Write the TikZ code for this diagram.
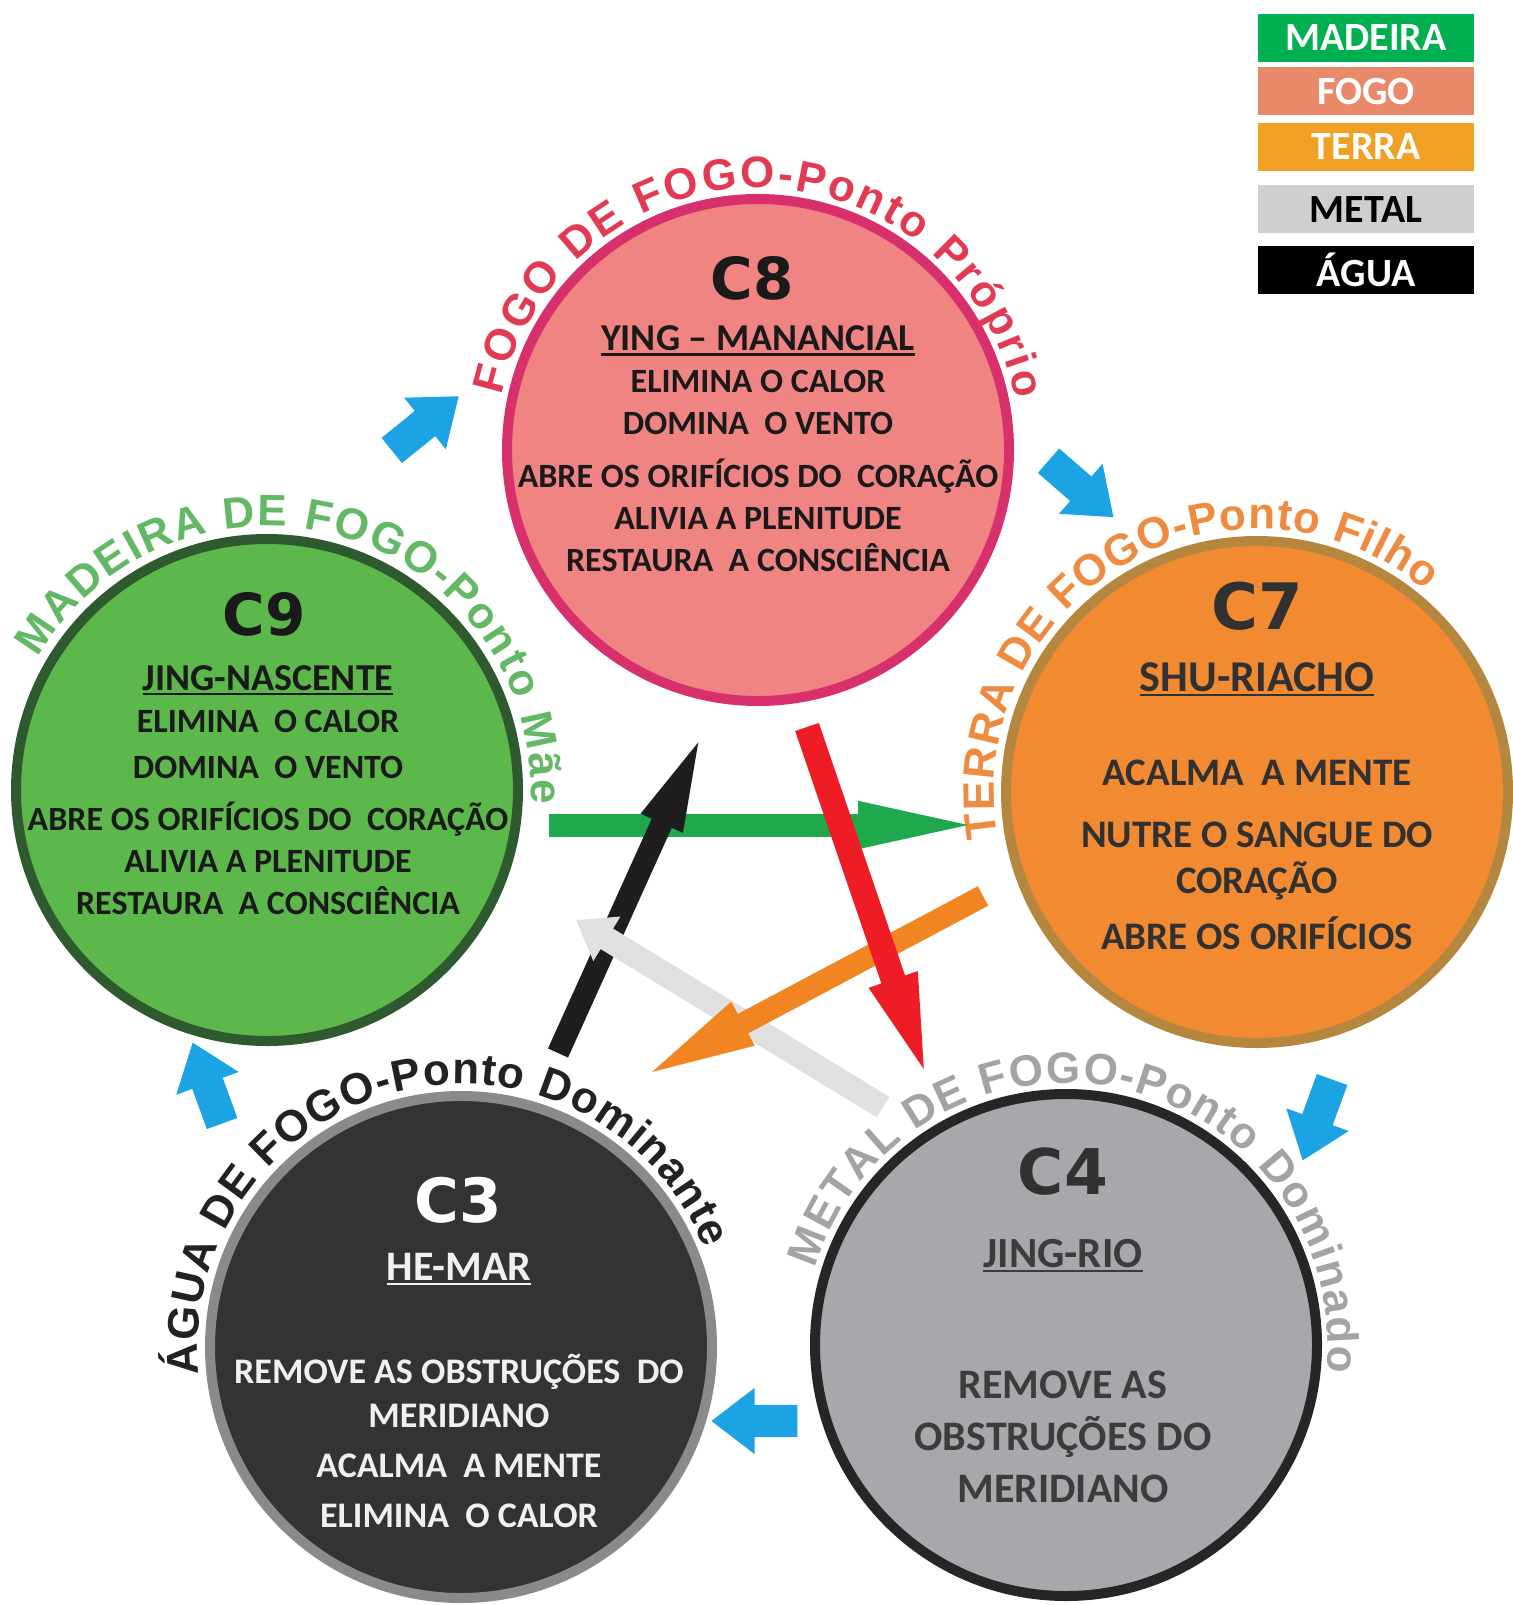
\documentclass[tikz,border=0pt]{standalone}
\usepackage{fontspec}
\setmainfont{Carlito}
\newfontfamily\arcfont{Liberation Sans}
\newfontfamily\numfont{DejaVu Sans}
\usetikzlibrary{positioning, arrows.meta, shapes.arrows, decorations.text}

\definecolor{fogofill}{HTML}{F08482}
\definecolor{fogoline}{HTML}{D8306C}
\definecolor{fogoarc}{HTML}{E23A52}
\definecolor{madeirafill}{HTML}{5DB84C}
\definecolor{madeiraline}{HTML}{2F5A2F}
\definecolor{madeiraarc}{HTML}{62B864}
\definecolor{terrafill}{HTML}{F28A32}
\definecolor{terraline}{HTML}{B5873E}
\definecolor{terraarc}{HTML}{EE8B40}
\definecolor{aguafill}{HTML}{333333}
\definecolor{agualine}{HTML}{8A8A8A}
\definecolor{aguaarc}{HTML}{222222}
\definecolor{metalfill}{HTML}{A8A8AC}
\definecolor{metalline}{HTML}{262626}
\definecolor{metalarc}{HTML}{A3A3A3}
\definecolor{ink}{HTML}{1A1A1A}
\definecolor{cycleblue}{HTML}{1CA3E3}
\definecolor{legmadeira}{HTML}{00B050}
\definecolor{legfogo}{HTML}{E8896A}
\definecolor{legterra}{HTML}{F0A022}
\definecolor{legmetal}{HTML}{D0CFCF}
\definecolor{ctrlgreen}{HTML}{1FA84C}
\definecolor{ctrlred}{HTML}{EE1C25}
\definecolor{ctrlorange}{HTML}{F08522}
\definecolor{ctrlblack}{HTML}{1E1E1E}
\definecolor{ctrlwhite}{HTML}{E0E0E0}

\newcommand{\subline}[1]{\setbox0\hbox{#1}\rlap{\rule[-5pt]{\wd0}{2.5pt}}\box0}

\begin{document}
\begin{tikzpicture}[
    x=1pt, y=1pt,
    font=\bfseries,
    element/.style={circle, line width=10pt, minimum size=502pt, inner sep=0pt},
    num/.style={inner sep=0pt, font=\numfont\bfseries\fontsize{#1}{#1}\selectfont},
    body/.style={align=center, inner sep=0pt},
    legend/.style={minimum width=216pt, minimum height=48pt, inner sep=0pt,
        text=white, font=\bfseries\fontsize{40}{40}\selectfont},
    cycle/.style={single arrow, fill=cycleblue, inner sep=0pt, inner ysep=16pt,
        minimum height=86pt, minimum width=66pt,
        single arrow head extend=17pt, single arrow tip angle=75},
    ctrl/.style={line width=23pt, -{Triangle[length=120pt, width=42pt]}},
    arclabel/.style 2 args={decorate, decoration={text along path,
        text align=fit to path,
        text={|\arcfont\bfseries\fontsize{44}{44}\selectfont#1|#2}}}
]

\useasboundingbox (0,0) rectangle (1512,-1605);
\fill[white] (0,0) rectangle (1512,-1605);

% Legend
\node[legend, fill=legmadeira] (madeira) at (1366,-38) {MADEIRA};
\node[legend, fill=legfogo, below=5pt of madeira] (fogo) {FOGO};
\node[legend, fill=legterra, below=7pt of fogo] (terra) {TERRA};
\node[legend, fill=legmetal, text=black, below=14pt of terra] (metal) {METAL};
\node[legend, fill=black, below=12pt of metal] (agua) {ÁGUA};

% Elements
\node[element, fill=fogofill, draw=fogoline] (c8) at (758,-450) {};
\node[element, fill=madeirafill, draw=madeiraline] (c9) at (267,-790) {};
\node[element, fill=terrafill, draw=terraline] (c7) at (1257,-792) {};
\node[element, fill=aguafill, draw=agualine] (c3) at (461,-1347) {};
\node[element, fill=metalfill, draw=metalline] (c4) at (1066,-1345) {};

% Labels round the circles
\path[arclabel={\color{fogoarc}}{FOGO DE FOGO-Ponto Próprio}]
    ([shift={(168:262pt)}]c8.center) arc[start angle=168, end angle=11, radius=262pt];
\path[arclabel={\color{madeiraarc}}{MADEIRA DE FOGO-Ponto Mãe}]
    ([shift={(150:264pt)}]c9.center) arc[start angle=150, end angle=-3, radius=264pt];
\path[arclabel={\color{terraarc}}{TERRA DE FOGO-Ponto Filho}]
    ([shift={(190:263pt)}]c7.center) arc[start angle=190, end angle=50, radius=263pt];
\path[arclabel={\color{aguaarc}}{ÁGUA DE FOGO-Ponto Dominante}]
    ([shift={(186:263pt)}]c3.center) arc[start angle=186, end angle=22, radius=263pt];
\path[arclabel={\color{metalarc}}{METAL DE FOGO-Ponto Dominado}]
    ([shift={(163:262pt)}]c4.center) arc[start angle=163, end angle=-6, radius=262pt];

% C8
\node[num=58, text=ink] (c8num) at (752,-278) {C8};
\node[body, text=ink, font=\bfseries\fontsize{34}{42}\selectfont] (c8body) at (758,-449) {%
    {\fontsize{38}{42}\selectfont\subline{YING – MANANCIAL}}\\
    ELIMINA O CALOR\\
    DOMINA \ O VENTO\\[11pt]
    ABRE OS ORIFÍCIOS DO \ CORAÇÃO\\
    ALIVIA A PLENITUDE\\
    RESTAURA \ A CONSCIÊNCIA};

% C9
\node[num=58, text=ink] (c9num) at (264,-614) {C9};
\node[body, text=ink, font=\bfseries\fontsize{34}{42}\selectfont] (c9body) at (268,-790) {%
    {\fontsize{38}{42}\selectfont\subline{JING-NASCENTE}}\\
    ELIMINA \ O CALOR\\[4pt]
    DOMINA \ O VENTO\\[10pt]
    ABRE OS ORIFÍCIOS DO \ CORAÇÃO\\
    ALIVIA A PLENITUDE\\
    RESTAURA \ A CONSCIÊNCIA};

% C7
\node[num=64, text=ink!90] (c7num) at (1257,-606) {C7};
\node[body, text=ink!90, font=\bfseries\fontsize{39}{46}\selectfont] (c7body) at (1257,-806) {%
    {\fontsize{44}{46}\selectfont\subline{SHU-RIACHO}}\\[48pt]
    ACALMA \ A MENTE\\[16pt]
    NUTRE O SANGUE DO\\
    CORAÇÃO\\[10pt]
    ABRE OS ORIFÍCIOS};

% C3
\node[num=61, text=white] (c3num) at (458,-1200) {C3};
\node[body, text=white!94!black, font=\bfseries\fontsize{36}{50}\selectfont] (c3body) at (459,-1390) {%
    {\fontsize{42}{50}\selectfont\subline{HE-MAR}}\\[53pt]
    REMOVE AS OBSTRUÇÕES \ DO\\[-6pt]
    MERIDIANO\\
    ACALMA \ A MENTE\\
    ELIMINA \ O CALOR};

% C4
\node[num=63, text=ink!90] (c4num) at (1063,-1172) {C4};
\node[body, text=ink!85, font=\bfseries\fontsize{42}{52}\selectfont] (c4body) at (1063,-1371) {%
    {\fontsize{43}{52}\selectfont\subline{JING-RIO}}\\[79pt]
    REMOVE AS\\
    OBSTRUÇÕES DO\\
    MERIDIANO};

% Generating cycle
\node[cycle, rotate=39] (c9c8) at (417,-430) {};
\node[cycle, rotate=-41] (c8c7) at (1073,-482) {};
\node[cycle, rotate=-110] (c7c4) at (1321,-1110) {};
\node[cycle, rotate=180] (c4c3) at (765,-1421) {};
\node[cycle, rotate=110] (c3c9) at (211,-1093) {};

% Controlling star
\coordinate (gtail) at (549,-825);
\coordinate (gtip) at (993,-825);
\coordinate (ktail) at (558,-1053);
\coordinate (ktip) at (707,-723);
\coordinate (wtail) at (883,-1107);
\coordinate (wtip) at (530,-892);
\coordinate (otail) at (983,-896);
\coordinate (otip) at (637,-1080);
\coordinate (rtail) at (807,-727);
\coordinate (rtip) at (932,-1093);

\draw[ctrl, ctrlgreen, -{Triangle[length=135pt, width=40pt]}] (gtail) -- (gtip);
\draw[ctrl, ctrlblack, line width=22pt, -{Triangle[length=110pt, width=38pt]}] (ktail) -- (ktip);
\draw[ctrl, ctrlwhite, line width=24pt, -{Triangle[length=90pt, width=28pt]}] (wtail) -- (wtip);
\draw[ctrl, ctrlorange, line width=22pt] (otail) -- (otip);
\draw[ctrl, ctrlred, line width=25pt] (rtail) -- (rtip);

\end{tikzpicture}
\end{document}
